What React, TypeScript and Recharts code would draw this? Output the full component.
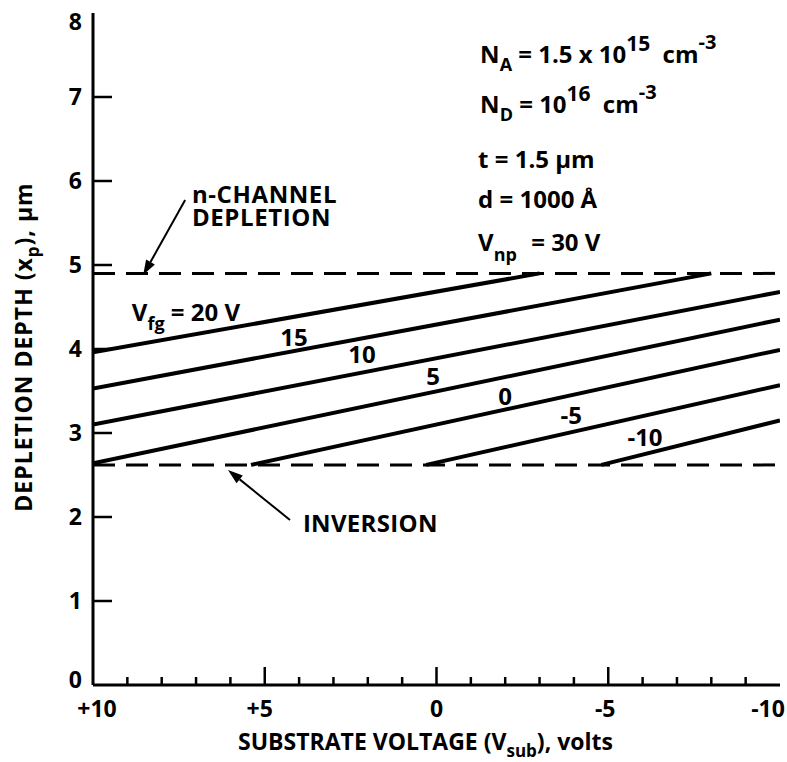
import React from 'react';
import { LineChart, Line, XAxis, YAxis, ReferenceLine, ReferenceDot, Label } from 'recharts';

if (typeof document !== 'undefined') {
  document.body.style.margin = '0';
}

// ---------- data ----------
const xTicks = [10, 9, 8, 7, 6, 5, 4, 3, 2, 1, 0, -1, -2, -3, -4, -5, -6, -7, -8, -9, -10];
const yTicks = [0, 1, 2, 3, 4, 5, 6, 7, 8];

const depletionLimit = 4.9; // n-channel depletion, µm
const inversionLimit = 2.62; // inversion, µm

const vfgNames = ['20', '15', '10', '5', '0', '-5', '-10'];
const startVsub = [10, 10, 10, 10, 5.4, 0.3, -4.8];
const startDepth = [3.96, 3.53, 3.1, 2.64, 2.62, 2.62, 2.62];
const endVsub = [-3.0, -8.0, -10, -10, -10, -10, -10];
const endDepth = [4.9, 4.9, 4.68, 4.35, 3.99, 3.57, 3.15];

// label anchors (data coordinates) for curve labels
const curveLabelV = [NaN, 4.15, 2.17, 0.1, -2.0, -3.92, -6.07];
const curveLabelD = [NaN, 4.14, 3.94, 3.68, 3.44, 3.21, 2.95];

const series = vfgNames.map((name, i) => ({
  name,
  data: [
    { v: startVsub[i], d: startDepth[i] },
    { v: endVsub[i], d: endDepth[i] },
  ],
}));

// ---------- styles ----------
const FONT = "'Open Sans', 'DejaVu Sans', sans-serif";
const W = 700;

const fmtX = (v: number) => (v > 0 ? `+${v}` : v === 0 ? '0' : `-${Math.abs(v)}`);
const xLabelShift: Record<string, number> = { '10': 4, '5': -5, '0': 0, '-5': -3, '-10': -12 };

const BottomTick = (p: any) => {
  const { x, y, payload } = p;
  const v = payload.value;
  const major = v % 5 === 0;
  const len = major ? 18 : 8;
  return (
    <g>
      {v !== 10 && v !== -10 && (
        <line x1={x} x2={x} y1={y} y2={y - len} stroke="#000" strokeWidth={2.5} />
      )}
      {major && (
        <text
          x={x + (xLabelShift[String(v)] || 0)}
          y={y + 32}
          textAnchor="middle"
          fontFamily={FONT}
          fontWeight={700}
          fontSize={23}
          fill="#000"
        >
          {fmtX(v)}
        </text>
      )}
    </g>
  );
};

const TopTick = (p: any) => {
  const { x, y, payload } = p;
  const v = payload.value;
  if (v === 10 || v === -10) return <g />;
  return (
    <g>
      <line x1={x} x2={x} y1={y} y2={y + 10} stroke="#000" strokeWidth={2.5} />
    </g>
  );
};

const LeftTick = (p: any) => {
  const { x, y, payload } = p;
  const v = payload.value;
  const dy = v === 8 ? 17 : v === 0 ? 3 : 8;
  return (
    <g>
      {v !== 0 && v !== 8 && (
        <line x1={x} x2={x + 19} y1={y} y2={y} stroke="#000" strokeWidth={2.5} />
      )}
      <text
        x={x - 11}
        y={y + dy}
        textAnchor="end"
        fontFamily={FONT}
        fontWeight={700}
        fontSize={23}
        fill="#000"
      >
        {v}
      </text>
    </g>
  );
};

const RightTick = (p: any) => {
  const { x, y, payload } = p;
  const v = payload.value;
  if (v === 0 || v === 8) return <g />;
  return (
    <g>
      <line x1={x} x2={x - 19} y1={y} y2={y} stroke="#000" strokeWidth={2.5} />
    </g>
  );
};

const XTitle = (p: any) => {
  const vb = p.viewBox || { x: 93, y: 685, width: 687 };
  return (
    <text
      x={vb.x + vb.width / 2 - 11}
      y={vb.y + 65}
      textAnchor="middle"
      fontFamily={FONT}
      fontWeight={W}
      fontSize={23}
      fill="#000"
    >
      SUBSTRATE VOLTAGE (V
      <tspan dy={7} fontSize={17}>sub</tspan>
      <tspan dy={-7}>), volts</tspan>
    </text>
  );
};

const YTitle = (p: any) => {
  const cx = 32;
  const cy = 347;
  return (
    <text
      x={cx}
      y={cy}
      transform={`rotate(-90 ${cx} ${cy})`}
      textAnchor="middle"
      fontFamily={FONT}
      fontWeight={W}
      fontSize={23}
      fill="#000"
      style={{ letterSpacing: '1px' }}
    >
      DEPLETION DEPTH (x
      <tspan dy={7} fontSize={17}>p</tspan>
      <tspan dy={-7}>), μm</tspan>
    </text>
  );
};

const textProps = {
  fontFamily: FONT,
  fontWeight: W,
  fontSize: 24,
  fill: '#000',
};

const SUB = 18;
const SUP = 21;

const ParamsBlock = (p: any) => {
  const { cx, cy } = p;
  return (
    <g>
      <text x={cx} y={cy} {...(textProps as any)}>
        N<tspan dy={8} fontSize={SUB}>A</tspan>
        <tspan dy={-8}> = 1.5 x 10</tspan>
        <tspan dy={-12} fontSize={SUP}>15</tspan>
        <tspan dy={12} dx={6}> cm</tspan>
        <tspan dy={-14} fontSize={SUP - 1}>-3</tspan>
      </text>
      <text x={cx} y={cy + 50} {...(textProps as any)}>
        N<tspan dy={8} fontSize={SUB}>D</tspan>
        <tspan dy={-8}> = 10</tspan>
        <tspan dy={-12} fontSize={SUP}>16</tspan>
        <tspan dy={12} dx={6}> cm</tspan>
        <tspan dy={-14} fontSize={SUP - 1}>-3</tspan>
      </text>
      <text x={cx - 2} y={cy + 105} {...(textProps as any)}>
        t = 1.5 μm
      </text>
      <text x={cx - 2} y={cy + 145} {...(textProps as any)}>
        d = 1000 Å
      </text>
      <text x={cx - 2} y={cy + 188} {...(textProps as any)}>
        V<tspan dy={10} fontSize={SUB}>np</tspan>
        <tspan dy={-10} dx={8}> = 30 V</tspan>
      </text>
    </g>
  );
};

const VfgLabel = (p: any) => {
  const { cx, cy } = p;
  return (
    <text x={cx} y={cy} {...(textProps as any)}>
      V<tspan dy={9} fontSize={SUB}>fg</tspan>
      <tspan dy={-9}> = 20 V</tspan>
    </text>
  );
};

const makeCurveLabel = (txt: string) => (p: any) => {
  const { cx, cy } = p;
  return (
    <text x={cx} y={cy + 9} textAnchor="middle" {...(textProps as any)}>
      {txt}
    </text>
  );
};

const Arrow = (dx: number, dy: number) => (p: any) => {
  const { cx, cy } = p;
  const sx = cx + dx;
  const sy = cy + dy;
  const L = Math.hypot(dx, dy);
  const ux = -dx / L;
  const uy = -dy / L;
  const hl = 15;
  const hw = 5;
  const bx = cx - ux * hl;
  const by = cy - uy * hl;
  const px = -uy;
  const py = ux;
  return (
    <g>
      <line x1={sx} y1={sy} x2={bx} y2={by} stroke="#000" strokeWidth={2} />
      <polygon
        points={`${cx},${cy} ${bx + px * hw},${by + py * hw} ${bx - px * hw},${by - py * hw}`}
        fill="#000"
      />
    </g>
  );
};

const MultiLineText = (lines: string[], gap: number, spacing: number) => (p: any) => {
  const { cx, cy } = p;
  return (
    <text
      x={cx}
      y={cy}
      {...(textProps as any)}
      style={{ letterSpacing: `${spacing}px` }}
    >
      {lines.map((l, i) => (
        <tspan key={i} x={cx} dy={i === 0 ? 0 : gap}>
          {l}
        </tspan>
      ))}
    </text>
  );
};

export default function App() {
  return (
    <div style={{ width: 787, height: 762, background: '#fff' }}>
      <LineChart
        width={787}
        height={762}
        margin={{ top: 13, right: 7, bottom: 0, left: 0 }}
      >
        <XAxis
          xAxisId="b"
          type="number"
          dataKey="v"
          domain={[-10, 10]}
          reversed
          ticks={xTicks}
          interval={0}
          height={77}
          axisLine={{ stroke: '#000', strokeWidth: 3 }}
          tickLine={false}
          tickSize={0}
          tickMargin={0}
          tick={BottomTick}
          allowDataOverflow
          label={<Label content={XTitle} />}
        />
        <XAxis
          xAxisId="t"
          orientation="top"
          type="number"
          dataKey="v"
          domain={[-10, 10]}
          reversed
          ticks={xTicks}
          interval={0}
          height={0}
          axisLine={{ stroke: '#000', strokeWidth: 3 }}
          tickLine={false}
          tickSize={0}
          tickMargin={0}
          tick={TopTick}
          allowDataOverflow
        />
        <YAxis
          yAxisId="l"
          type="number"
          domain={[0, 8]}
          ticks={yTicks}
          interval={0}
          width={93}
          axisLine={{ stroke: '#000', strokeWidth: 3 }}
          tickLine={false}
          tickSize={0}
          tickMargin={0}
          tick={LeftTick}
          allowDataOverflow
          label={<Label content={YTitle} />}
        />
        <YAxis
          yAxisId="r"
          orientation="right"
          type="number"
          domain={[0, 8]}
          ticks={yTicks}
          interval={0}
          width={0}
          axisLine={{ stroke: '#000', strokeWidth: 3 }}
          tickLine={false}
          tickSize={0}
          tickMargin={0}
          tick={RightTick}
          allowDataOverflow
        />
        <ReferenceLine
          xAxisId="b"
          yAxisId="l"
          y={depletionLimit}
          stroke="#000"
          strokeWidth={3}
          strokeDasharray="22 11"
        />
        <ReferenceLine
          xAxisId="b"
          yAxisId="l"
          y={inversionLimit}
          stroke="#000"
          strokeWidth={3}
          strokeDasharray="22 11"
        />
        {series.map((s) => (
          <Line
            key={s.name}
            xAxisId="b"
            yAxisId="l"
            data={s.data}
            dataKey="d"
            name={s.name}
            type="linear"
            stroke="#000"
            strokeWidth={4}
            dot={false}
            activeDot={false}
            isAnimationActive={false}
          />
        ))}
        {vfgNames.map((n, i) =>
          i === 0 ? null : (
            <ReferenceDot
              key={'lab' + n}
              xAxisId="b"
              yAxisId="l"
              x={curveLabelV[i]}
              y={curveLabelD[i]}
              r={0}
              shape={makeCurveLabel(n)}
            />
          )
        )}
        <ReferenceDot xAxisId="b" yAxisId="l" x={8.87} y={4.33} r={0} shape={VfgLabel} />
        <ReferenceDot xAxisId="b" yAxisId="l" x={-1.27} y={7.4} r={0} shape={ParamsBlock} />
        <ReferenceDot
          xAxisId="b"
          yAxisId="l"
          x={7.12}
          y={5.74}
          r={0}
          shape={MultiLineText(['n-CHANNEL', 'DEPLETION'], 23, 0.6)}
        />
        <ReferenceDot xAxisId="b" yAxisId="l" x={8.54} y={4.88} r={0} shape={Arrow(42, -75)} />
        <ReferenceDot
          xAxisId="b"
          yAxisId="l"
          x={3.89}
          y={1.82}
          r={0}
          shape={MultiLineText(['INVERSION'], 0, 0.3)}
        />
        <ReferenceDot xAxisId="b" yAxisId="l" x={6.07} y={2.56} r={0} shape={Arrow(62, 50)} />
      </LineChart>
    </div>
  );
}
